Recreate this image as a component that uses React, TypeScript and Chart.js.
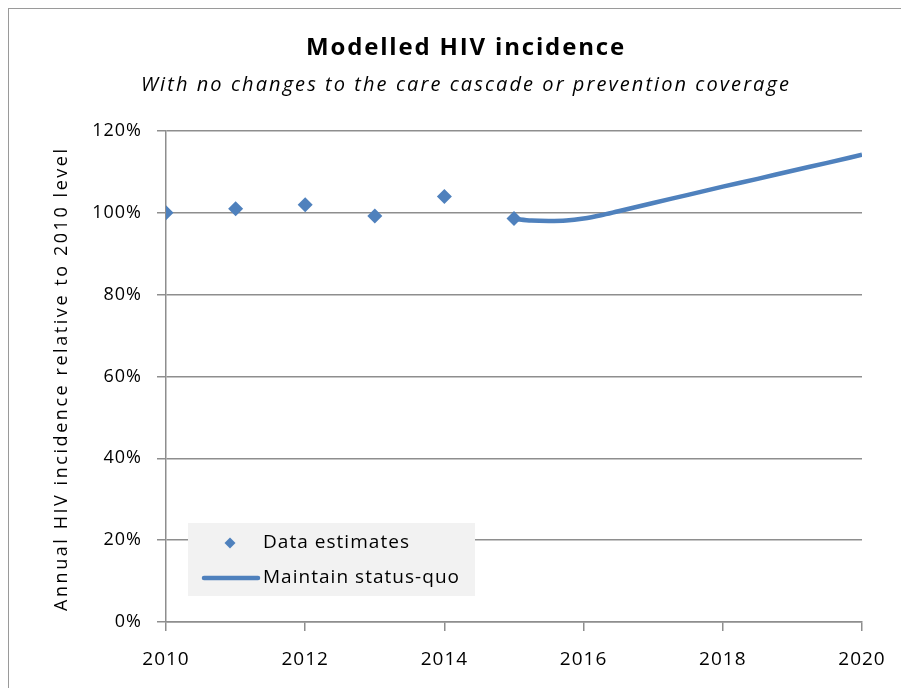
import React, { useEffect, useRef } from "react";
import { Chart, registerables } from "chart.js";

Chart.register(...registerables);

const dataYears = [2010, 2011, 2012, 2013, 2014, 2015];
const dataEstimates = [100, 101, 102, 99.2, 104, 98.6];

const modelYears = [2015, 2015.25, 2015.5, 2015.75, 2016, 2016.25, 2016.5, 2017, 2017.5, 2018, 2018.5, 2019, 2019.5, 2020];
const modelValues = [98.5, 98.1, 98.0, 98.1, 98.6, 99.4, 100.4, 102.4, 104.4, 106.4, 108.3, 110.3, 112.2, 114.2];

const titleText = "Modelled HIV incidence";
const subtitleText = "With no changes to the care cascade or prevention coverage";
const yAxisTitle = "Annual HIV incidence relative to 2010 level";
const legendLabels = ["Data estimates", "Maintain status-quo"];

const BLUE = "#4f81bd";
const GRID = "#8e8e8e";
const FONT = "'Open Sans', sans-serif";

function drawSpaced(ctx: any, text: string, x: number, y: number, font: string, target: number, align: "left" | "center") {
  ctx.save();
  ctx.font = font;
  ctx.letterSpacing = "0px";
  const w0 = ctx.measureText(text).width;
  const sp = Math.max(0, (target - w0) / Math.max(1, text.length - 1));
  ctx.letterSpacing = sp.toFixed(2) + "px";
  ctx.textAlign = "left";
  ctx.textBaseline = "middle";
  const total = w0 + sp * (text.length - 1);
  const sx = align === "center" ? x - total / 2 : x;
  ctx.fillText(text, sx, y);
  ctx.restore();
}

const textPlugin = {
  id: "textDecor",
  beforeDraw(chart: any) {
    chart.ctx.letterSpacing = "1px";
  },
  afterDraw(chart: any) {
    const ctx = chart.ctx;
    const x = chart.scales.x;
    const y = chart.scales.y;
    ctx.save();
    ctx.fillStyle = "#000";
    // titles
    drawSpaced(ctx, titleText, 456, 39, `bold 24px ${FONT}`, 318, "center");
    drawSpaced(ctx, subtitleText, 456, 76, `italic 20px ${FONT}`, 648, "center");
    // y axis title
    ctx.save();
    ctx.translate(53, 371);
    ctx.rotate(-Math.PI / 2);
    drawSpaced(ctx, yAxisTitle, 0, 0, `18px ${FONT}`, 462, "center");
    ctx.restore();

    // legend
    const left = x.getPixelForValue(2010) + 22;
    const top = y.getPixelForValue(24.2);
    const w = 287;
    const h = 73;
    ctx.fillStyle = "#f2f2f2";
    ctx.fillRect(left, top, w, h);
    const dx = left + 42;
    const dy = top + 20;
    ctx.fillStyle = BLUE;
    ctx.beginPath();
    ctx.moveTo(dx, dy - 5.5);
    ctx.lineTo(dx + 5.5, dy);
    ctx.lineTo(dx, dy + 5.5);
    ctx.lineTo(dx - 5.5, dy);
    ctx.closePath();
    ctx.fill();
    const ly = top + 55;
    ctx.strokeStyle = BLUE;
    ctx.lineWidth = 4.5;
    ctx.lineCap = "round";
    ctx.beginPath();
    ctx.moveTo(left + 16, ly);
    ctx.lineTo(left + 70, ly);
    ctx.stroke();
    ctx.fillStyle = "#000";
    drawSpaced(ctx, legendLabels[0], left + 75, dy, `19px ${FONT}`, 146, "left");
    drawSpaced(ctx, legendLabels[1], left + 75, ly, `19px ${FONT}`, 196, "left");
    ctx.restore();
  },
};

export default function App() {
  const ref = useRef<HTMLCanvasElement>(null);
  useEffect(() => {
    const canvas = ref.current!;
    const chart = new Chart(canvas, {
      type: "scatter",
      data: {
        datasets: [
          {
            label: legendLabels[0],
            data: dataYears.map((yr, i) => ({ x: yr, y: dataEstimates[i] })),
            pointStyle: "rectRot",
            pointRadius: 7.5,
            pointHoverRadius: 7.5,
            backgroundColor: BLUE,
            borderColor: BLUE,
            borderWidth: 0,
            showLine: false,
            order: 1,
          },
          {
            label: legendLabels[1],
            data: modelYears.map((yr, i) => ({ x: yr, y: modelValues[i] })),
            showLine: true,
            pointRadius: 0,
            borderColor: BLUE,
            backgroundColor: BLUE,
            borderWidth: 4.5,
            cubicInterpolationMode: "monotone",
            order: 2,
          },
        ],
      },
      options: {
        animation: false,
        responsive: false,
        maintainAspectRatio: false,
        layout: { padding: { left: 0, right: 46, top: 122, bottom: 0 } },
        plugins: {
          legend: { display: false },
          tooltip: { enabled: false },
          title: { display: false },
        },
        scales: {
          x: {
            type: "linear",
            min: 2010,
            max: 2020,
            afterFit: (s: any) => {
              s.height = 66;
            },
            ticks: {
              stepSize: 2,
              color: "#000",
              font: { family: FONT, size: 19 },
              padding: 17,
              callback: (v: any) => String(v),
            },
            grid: {
              drawOnChartArea: false,
              drawTicks: true,
              tickLength: 9,
              color: GRID,
              lineWidth: 1.5,
            },
            border: { display: true, color: GRID, width: 1.5 },
          },
          y: {
            min: 0,
            max: 120,
            afterFit: (s: any) => {
              s.width = 157;
            },
            ticks: {
              stepSize: 20,
              color: "#000",
              font: { family: FONT, size: 18 },
              padding: 15,
              callback: (v: any) => v + "%",
            },
            grid: {
              color: GRID,
              lineWidth: 1.5,
              tickLength: 9,
            },
            border: { display: true, color: GRID, width: 1.5 },
          },
        },
      },
      plugins: [textPlugin],
    } as any);
    return () => chart.destroy();
  }, []);
  return (
    <div style={{ width: 901, height: 681, borderTop: "2px solid #9a9a9a", borderLeft: "2px solid #9a9a9a", boxSizing: "border-box", marginLeft: -1, marginTop: -1 }}>
      <canvas ref={ref} width={899} height={679} style={{ display: "block" }} />
    </div>
  );
}
